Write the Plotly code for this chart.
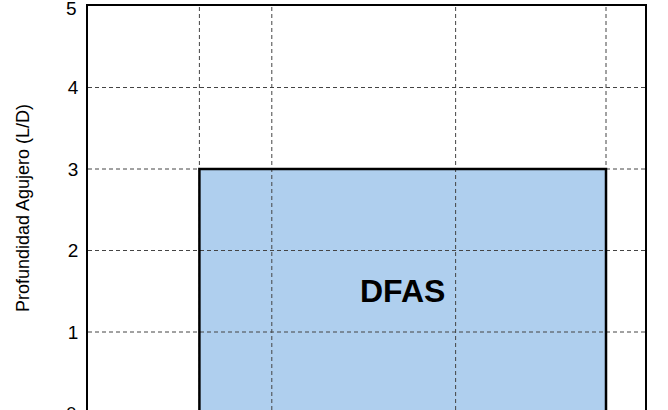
import plotly.graph_objects as go

# ---- data ----
y_ticks = [0, 1, 2, 3, 4, 5]
x_grid = [2.0, 3.3, 6.6, 9.3]          # vertical gridline positions
region_label = "DFAS"
region_x = [2.0, 9.3]                   # left / right of the region
region_depth = [0, 3]                   # bottom / top (L/D)
y_title = "Profundidad Agujero (L/D)"

X_RANGE = [0, 10]
Y_RANGE = [0.043, 5.0]

FONT = "Liberation Sans, Arial, sans-serif"
GRID = "#444444"
TICK_SIZE = 19

fig = go.Figure()

x0, x1 = region_x
yb, yt = region_depth
poly_x = [x0, x0, x1, x1, x0]
poly_y = [yb, yt, yt, yb, yb]

# filled region
fig.add_trace(go.Scatter(x=poly_x, y=poly_y, mode="lines", fill="toself",
                         fillcolor="#AFCFEE", line=dict(width=0, color="rgba(0,0,0,0)"),
                         hoverinfo="skip", showlegend=False))

# gridlines (drawn above fill)
gx, gy = [], []
for v in x_grid:
    gx += [v, v, None]
    gy += [Y_RANGE[0], Y_RANGE[1], None]
for v in y_ticks[1:-1]:
    gx += [X_RANGE[0], X_RANGE[1], None]
    gy += [v, v, None]
fig.add_trace(go.Scatter(x=gx, y=gy, mode="lines",
                         line=dict(color=GRID, width=1, dash="4px,3px"),
                         hoverinfo="skip", showlegend=False))

# region outline
fig.add_trace(go.Scatter(x=poly_x, y=poly_y, mode="lines",
                         line=dict(color="black", width=2.5),
                         hoverinfo="skip", showlegend=False))

fig.add_annotation(x=(x0 + x1) / 2, y=(yb + yt) / 2, text=f"<b>{region_label}</b>",
                   showarrow=False, font=dict(family=FONT, size=32, color="black"))

# end tick labels (at/below the edges of the visible area) as annotations
for v in (y_ticks[0], y_ticks[-1]):
    ypaper = (v - Y_RANGE[0]) / (Y_RANGE[1] - Y_RANGE[0])
    fig.add_annotation(x=0, xref="paper", xanchor="right", xshift=-9,
                       y=ypaper, yref="paper", yanchor="middle", text=str(v),
                       yshift=(-2 if v == y_ticks[-1] else 0),
                       showarrow=False, font=dict(family=FONT, size=TICK_SIZE, color="black"))

fig.update_layout(
    width=668, height=410,
    margin=dict(l=88, r=23, t=6, b=0, autoexpand=False),
    paper_bgcolor="white", plot_bgcolor="white",
    font=dict(family=FONT, color="black"),
    xaxis=dict(range=X_RANGE, showgrid=False, zeroline=False, showline=True,
               side="top", linecolor="black", linewidth=1.5, showticklabels=False,
               ticks="", fixedrange=True),
    yaxis=dict(range=Y_RANGE, showgrid=False, zeroline=False, showline=True,
               mirror=True, linecolor="black", linewidth=1.5, ticks="",
               tickvals=y_ticks[1:-1], tickfont=dict(size=TICK_SIZE, color="black"),
               ticklabelstandoff=4,
               title=dict(text=y_title, font=dict(size=18, color="black"), standoff=34),
               automargin=False, fixedrange=True),
)

fig.write_html("out.html", config={"displayModeBar": False},
               post_script="document.body.style.margin='0';document.body.style.overflow='hidden';")
